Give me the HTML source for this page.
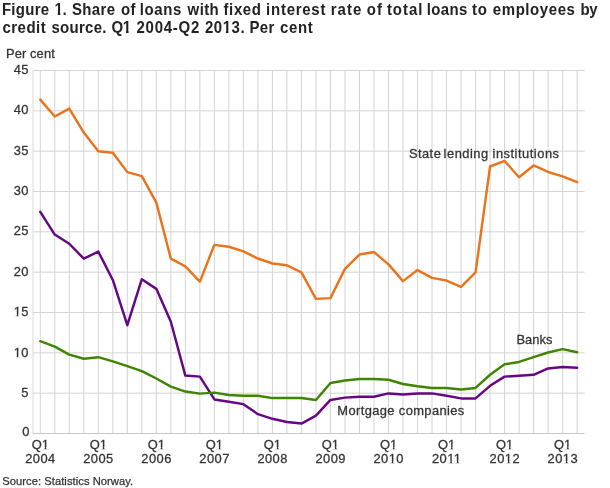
<!DOCTYPE html>
<html><head><meta charset="utf-8"><title>Figure 1</title>
<style>
html,body{margin:0;padding:0;background:#fff;}
body{width:610px;height:488px;overflow:hidden;font-family:"Liberation Sans",sans-serif;}
svg{display:block;will-change:transform;}
text{font-family:"Liberation Sans",sans-serif;fill:#333;}
.t{font-weight:bold;font-size:15px;fill:#222;}
.a{font-size:12.9px;stroke:#333;stroke-width:0.28px;}
.y{letter-spacing:0.45px;}
.s{font-size:11.2px;stroke:#333;stroke-width:0.25px;}
</style></head><body>
<svg width="610" height="488" viewBox="0 0 610 488">
<rect width="610" height="488" fill="#fff"/>
<text class="t" x="1.95" y="0" transform="translate(0,14.8) scale(1,1.15)" style="letter-spacing:0.27px">Figure</text><text class="t" x="54.53" y="0" transform="translate(0,14.8) scale(1,1.15)" style="letter-spacing:-0.40px">1.</text><text class="t" x="72.00" y="0" transform="translate(0,14.8) scale(1,1.15)" style="letter-spacing:0.34px">Share</text><text class="t" x="121.10" y="0" transform="translate(0,14.8) scale(1,1.15)" style="letter-spacing:0.24px">of</text><text class="t" x="139.80" y="0" transform="translate(0,14.8) scale(1,1.15)" style="letter-spacing:0.59px">loans</text><text class="t" x="187.60" y="0" transform="translate(0,14.8) scale(1,1.15)" style="letter-spacing:0.39px">with</text><text class="t" x="223.50" y="0" transform="translate(0,14.8) scale(1,1.15)" style="letter-spacing:0.61px">fixed</text><text class="t" x="266.10" y="0" transform="translate(0,14.8) scale(1,1.15)" style="letter-spacing:0.74px">interest</text><text class="t" x="330.76" y="0" transform="translate(0,14.8) scale(1,1.15)" style="letter-spacing:1.00px">rate</text><text class="t" x="366.82" y="0" transform="translate(0,14.8) scale(1,1.15)" style="letter-spacing:1.00px">of</text><text class="t" x="386.90" y="0" transform="translate(0,14.8) scale(1,1.15)" style="letter-spacing:0.98px">total</text><text class="t" x="426.70" y="0" transform="translate(0,14.8) scale(1,1.15)" style="letter-spacing:0.39px">loans</text><text class="t" x="472.00" y="0" transform="translate(0,14.8) scale(1,1.15)" style="letter-spacing:0.70px">to</text><text class="t" x="492.80" y="0" transform="translate(0,14.8) scale(1,1.15)" style="letter-spacing:0.58px">employees</text><text class="t" x="580.47" y="0" transform="translate(0,14.8) scale(1,1.15)" style="letter-spacing:-0.40px">by</text><text class="t" x="2.40" y="0" transform="translate(0,32.9) scale(1,1.15)" style="letter-spacing:0.51px">credit</text><text class="t" x="51.50" y="0" transform="translate(0,32.9) scale(1,1.15)" style="letter-spacing:0.27px">source.</text><text class="t" x="111.52" y="0" transform="translate(0,32.9) scale(1,1.15)" style="letter-spacing:-0.40px">Q1</text><text class="t" x="136.50" y="0" transform="translate(0,32.9) scale(1,1.15)" style="letter-spacing:0.74px">2004-Q2</text><text class="t" x="204.90" y="0" transform="translate(0,32.9) scale(1,1.15)" style="letter-spacing:0.56px">2013.</text><text class="t" x="249.40" y="0" transform="translate(0,32.9) scale(1,1.15)" style="letter-spacing:0.43px">Per</text><text class="t" x="279.90" y="0" transform="translate(0,32.9) scale(1,1.15)" style="letter-spacing:0.68px">cent</text>
<text class="a" x="5.9" y="57.7" textLength="48.9" lengthAdjust="spacing">Per cent</text>
<g stroke="#d4d4d4" stroke-width="1" fill="none">
<path d="M40.26 70.50 V433.50"/><path d="M54.77 70.50 V433.50"/><path d="M69.28 70.50 V433.50"/><path d="M83.79 70.50 V433.50"/><path d="M98.30 70.50 V433.50"/><path d="M112.81 70.50 V433.50"/><path d="M127.32 70.50 V433.50"/><path d="M141.83 70.50 V433.50"/><path d="M156.34 70.50 V433.50"/><path d="M170.85 70.50 V433.50"/><path d="M185.36 70.50 V433.50"/><path d="M199.87 70.50 V433.50"/><path d="M214.38 70.50 V433.50"/><path d="M228.89 70.50 V433.50"/><path d="M243.40 70.50 V433.50"/><path d="M257.91 70.50 V433.50"/><path d="M272.42 70.50 V433.50"/><path d="M286.93 70.50 V433.50"/><path d="M301.44 70.50 V433.50"/><path d="M315.95 70.50 V433.50"/><path d="M330.46 70.50 V433.50"/><path d="M344.97 70.50 V433.50"/><path d="M359.48 70.50 V433.50"/><path d="M373.99 70.50 V433.50"/><path d="M388.50 70.50 V433.50"/><path d="M403.01 70.50 V433.50"/><path d="M417.52 70.50 V433.50"/><path d="M432.03 70.50 V433.50"/><path d="M446.54 70.50 V433.50"/><path d="M461.05 70.50 V433.50"/><path d="M475.56 70.50 V433.50"/><path d="M490.07 70.50 V433.50"/><path d="M504.58 70.50 V433.50"/><path d="M519.09 70.50 V433.50"/><path d="M533.60 70.50 V433.50"/><path d="M548.11 70.50 V433.50"/><path d="M562.62 70.50 V433.50"/><path d="M577.13 70.50 V433.50"/>
<path d="M33.00 393.17 H584.60"/><path d="M33.00 352.83 H584.60"/><path d="M33.00 312.50 H584.60"/><path d="M33.00 272.17 H584.60"/><path d="M33.00 231.83 H584.60"/><path d="M33.00 191.50 H584.60"/><path d="M33.00 151.17 H584.60"/><path d="M33.00 110.83 H584.60"/><path d="M33.00 70.50 H584.60"/><path d="M33.00 70.50 V433.50" stroke="#dadada"/>
</g>
<path d="M33.00 433.50 H584.60" stroke="#c8c8c8" stroke-width="1.2" fill="none"/>
<text class="a y" x="29.8" y="435.80" text-anchor="end">0</text><text class="a y" x="28.9" y="396.67" text-anchor="end">5</text><text class="a y" x="28.9" y="357.13" text-anchor="end">10</text><text class="a y" x="28.9" y="316.00" text-anchor="end">15</text><text class="a y" x="28.9" y="275.67" text-anchor="end">20</text><text class="a y" x="28.9" y="235.33" text-anchor="end">25</text><text class="a y" x="28.9" y="195.00" text-anchor="end">30</text><text class="a y" x="28.9" y="154.67" text-anchor="end">35</text><text class="a y" x="28.9" y="114.33" text-anchor="end">40</text><text class="a y" x="28.9" y="74.00" text-anchor="end">45</text>
<text class="a" x="40.26" y="448.7" text-anchor="middle">Q1</text><text class="a y" x="40.46" y="462.7" text-anchor="middle">2004</text><text class="a" x="98.30" y="448.7" text-anchor="middle">Q1</text><text class="a y" x="98.50" y="462.7" text-anchor="middle">2005</text><text class="a" x="156.34" y="448.7" text-anchor="middle">Q1</text><text class="a y" x="156.54" y="462.7" text-anchor="middle">2006</text><text class="a" x="214.38" y="448.7" text-anchor="middle">Q1</text><text class="a y" x="214.58" y="462.7" text-anchor="middle">2007</text><text class="a" x="272.42" y="448.7" text-anchor="middle">Q1</text><text class="a y" x="272.62" y="462.7" text-anchor="middle">2008</text><text class="a" x="330.46" y="448.7" text-anchor="middle">Q1</text><text class="a y" x="330.66" y="462.7" text-anchor="middle">2009</text><text class="a" x="388.50" y="448.7" text-anchor="middle">Q1</text><text class="a y" x="388.70" y="462.7" text-anchor="middle">2010</text><text class="a" x="446.54" y="448.7" text-anchor="middle">Q1</text><text class="a y" x="446.74" y="462.7" text-anchor="middle">2011</text><text class="a" x="504.58" y="448.7" text-anchor="middle">Q1</text><text class="a y" x="504.78" y="462.7" text-anchor="middle">2012</text><text class="a" x="562.62" y="448.7" text-anchor="middle">Q1</text><text class="a y" x="562.82" y="462.7" text-anchor="middle">2013</text>
<g fill="#fff"><rect x="54.67" y="12.34" width="3.11" height="3.16"/><rect x="60.34" y="12.34" width="2.92" height="3.16"/><rect x="122.92" y="30.44" width="3.11" height="3.16"/><rect x="128.58" y="30.44" width="2.92" height="3.16"/><rect x="222.84" y="30.44" width="3.11" height="3.16"/><rect x="228.50" y="30.44" width="2.92" height="3.16"/><rect x="13.83" y="355.47" width="2.81" height="2.36"/><rect x="18.28" y="355.47" width="2.71" height="2.36"/><rect x="13.83" y="314.34" width="2.81" height="2.36"/><rect x="18.28" y="314.34" width="2.71" height="2.36"/><rect x="41.86" y="447.04" width="2.81" height="2.36"/><rect x="46.31" y="447.04" width="2.71" height="2.36"/><rect x="99.90" y="447.04" width="2.81" height="2.36"/><rect x="104.35" y="447.04" width="2.71" height="2.36"/><rect x="157.94" y="447.04" width="2.81" height="2.36"/><rect x="162.39" y="447.04" width="2.71" height="2.36"/><rect x="215.98" y="447.04" width="2.81" height="2.36"/><rect x="220.43" y="447.04" width="2.71" height="2.36"/><rect x="274.02" y="447.04" width="2.81" height="2.36"/><rect x="278.47" y="447.04" width="2.71" height="2.36"/><rect x="332.06" y="447.04" width="2.81" height="2.36"/><rect x="336.51" y="447.04" width="2.71" height="2.36"/><rect x="390.10" y="447.04" width="2.81" height="2.36"/><rect x="394.55" y="447.04" width="2.71" height="2.36"/><rect x="388.87" y="461.04" width="2.81" height="2.36"/><rect x="393.33" y="461.04" width="2.71" height="2.36"/><rect x="448.14" y="447.04" width="2.81" height="2.36"/><rect x="452.59" y="447.04" width="2.71" height="2.36"/><rect x="447.39" y="461.04" width="2.81" height="2.36"/><rect x="451.84" y="461.04" width="2.71" height="2.36"/><rect x="454.05" y="461.04" width="2.81" height="2.36"/><rect x="458.50" y="461.04" width="2.71" height="2.36"/><rect x="506.18" y="447.04" width="2.81" height="2.36"/><rect x="510.63" y="447.04" width="2.71" height="2.36"/><rect x="504.95" y="461.04" width="2.81" height="2.36"/><rect x="509.41" y="461.04" width="2.71" height="2.36"/><rect x="564.22" y="447.04" width="2.81" height="2.36"/><rect x="568.67" y="447.04" width="2.71" height="2.36"/><rect x="562.99" y="461.04" width="2.81" height="2.36"/><rect x="567.45" y="461.04" width="2.71" height="2.36"/></g>
<path d="M40.26 99.62 L54.77 116.48 L69.28 108.57 L83.79 132.61 L98.30 151.17 L112.81 152.78 L127.32 172.14 L141.83 176.17 L156.34 202.63 L170.85 258.69 L185.36 266.44 L199.87 281.60 L214.38 244.90 L228.89 246.76 L243.40 251.43 L257.91 258.53 L272.42 263.53 L286.93 265.31 L301.44 272.41 L315.95 298.87 L330.46 298.14 L344.97 268.78 L359.48 254.58 L373.99 252.00 L388.50 264.34 L403.01 281.12 L417.52 270.07 L432.03 277.89 L446.54 280.56 L461.05 286.85 L475.56 272.41 L490.07 166.49 L504.58 160.93 L519.09 177.22 L533.60 165.44 L548.11 171.98 L562.62 176.41 L577.13 182.22" stroke="#ea741b" stroke-width="2.45" fill="none" stroke-linejoin="round" stroke-linecap="round"/>
<path d="M40.26 211.83 L54.77 234.58 L69.28 243.77 L83.79 258.69 L98.30 251.60 L112.81 279.99 L127.32 325.24 L141.83 279.18 L156.34 288.86 L170.85 321.78 L185.36 375.58 L199.87 376.63 L214.38 399.46 L228.89 401.80 L243.40 404.14 L257.91 414.14 L272.42 418.82 L286.93 421.96 L301.44 423.58 L315.95 415.67 L330.46 399.94 L344.97 397.60 L359.48 396.80 L373.99 396.80 L388.50 393.41 L403.01 394.46 L417.52 393.41 L432.03 393.41 L446.54 395.75 L461.05 398.41 L475.56 398.41 L490.07 385.83 L504.58 376.63 L519.09 375.82 L533.60 374.77 L548.11 368.48 L562.62 366.95 L577.13 367.68" stroke="#670684" stroke-width="2.45" fill="none" stroke-linejoin="round" stroke-linecap="round"/>
<path d="M40.26 341.22 L54.77 346.70 L69.28 354.61 L83.79 358.80 L98.30 357.19 L112.81 361.38 L127.32 366.14 L141.83 371.14 L156.34 378.49 L170.85 386.63 L185.36 391.55 L199.87 393.65 L214.38 392.60 L228.89 395.02 L243.40 395.75 L257.91 395.75 L272.42 398.09 L286.93 398.09 L301.44 398.09 L315.95 399.94 L330.46 382.92 L344.97 380.58 L359.48 378.97 L373.99 378.97 L388.50 379.78 L403.01 383.97 L417.52 386.31 L432.03 387.92 L446.54 387.92 L461.05 389.46 L475.56 387.92 L490.07 374.77 L504.58 364.29 L519.09 361.95 L533.60 357.19 L548.11 352.51 L562.62 349.12 L577.13 352.27" stroke="#3e8601" stroke-width="2.45" fill="none" stroke-linejoin="round" stroke-linecap="round"/>
<text class="a" x="409" y="157.5" textLength="31.8" lengthAdjust="spacing">State</text><text class="a" x="443.6" y="157.5" textLength="44.6" lengthAdjust="spacing">lending</text><text class="a" x="492.5" y="157.5" textLength="66.5" lengthAdjust="spacing">institutions</text>
<text class="a" x="516.4" y="344.1" textLength="36" lengthAdjust="spacing">Banks</text>
<text class="a" x="337.3" y="414.9" textLength="127" lengthAdjust="spacing">Mortgage companies</text>
<text class="s" x="2.2" y="484.6" textLength="131" lengthAdjust="spacing">Source: Statistics Norway.</text>
</svg></body></html>
